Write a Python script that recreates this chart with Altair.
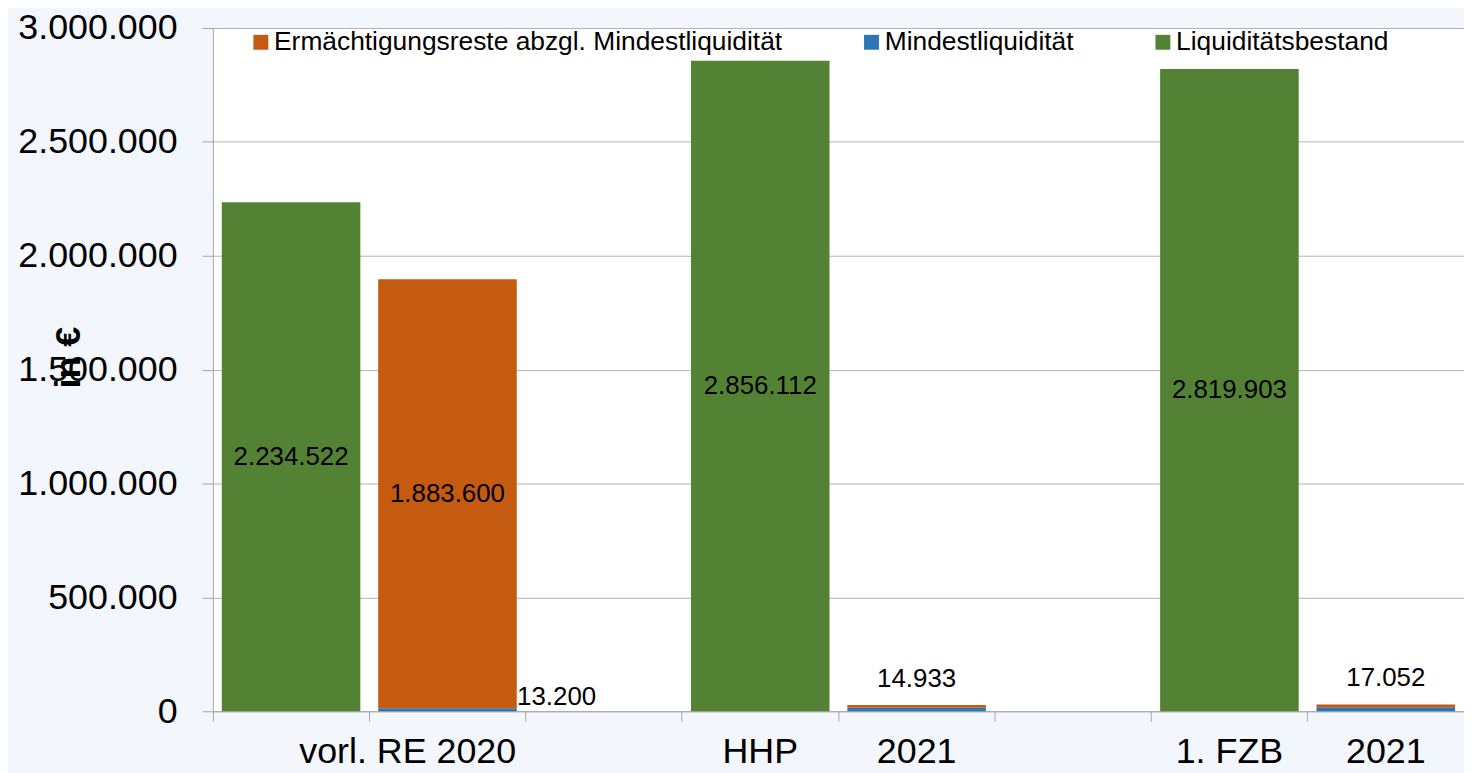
import altair as alt
import pandas as pd

# ---------------- data ----------------
slots = ["s1", "s2", "s3", "s4", "s5", "s6", "s7", "s8"]
slot_labels = ["", "vorl. RE 2020", "", "HHP", "2021", "", "1. FZB", "2021"]

series = ["Ermächtigungsreste abzgl. Mindestliquidität", "Mindestliquidität", "Liquiditätsbestand"]
colors = ["#C55A11", "#2E75B6", "#548235"]

green_slots = ["s1", "s4", "s7"]
green_vals = [2234522, 2856112, 2819903]

orange_slots = ["s2", "s5", "s8"]
orange_vals = [1883600, 13000, 13000]

blue_slots = ["s2", "s5", "s8"]
blue_vals = [13200, 14933, 17052]

y_ticks = [0, 500000, 1000000, 1500000, 2000000, 2500000, 3000000]


def de(v):
    return f"{v:,}".replace(",", ".")


rows = []
for s, v in zip(blue_slots, blue_vals):
    rows.append({"slot": s, "series": series[1], "value": v, "order": 0, "label": de(v)})
for s, v in zip(orange_slots, orange_vals):
    rows.append({"slot": s, "series": series[0], "value": v, "order": 1, "label": de(v)})
for s, v in zip(green_slots, green_vals):
    rows.append({"slot": s, "series": series[2], "value": v, "order": 0, "label": de(v)})
df = pd.DataFrame(rows)

W, H = 1258, 687
FONT = "Liberation Sans"

label_expr = " : ".join(
    f"datum.value == '{s}' ? '{l}'" for s, l in zip(slots, slot_labels) if l
) + " : ''"

x_enc = alt.X(
    "slot:N",
    scale=alt.Scale(domain=slots, paddingInner=0, paddingOuter=0),
    axis=alt.Axis(
        title=None,
        bandPosition=0,
        labelExpr=label_expr,
        labelAngle=0,
        labelFontSize=36,
        labelColor="black",
        labelPadding=14,
        labelBaseline="top",
        labelLimit=0,
        labelOverlap=False,
        labelBound=False,
        labelOffset={"condition": {"test": "datum.value === 's2'", "value": -40}, "value": 0},
        tickSize=10,
        tickColor="#a6a6a6",
        domainColor="#a6a6a6",
        grid=False,
    ),
)

y_scale = alt.Scale(domain=[0, 3000000], nice=False)

bars = alt.Chart(df).mark_bar(width=alt.RelativeBandSize(0.886)).encode(
    x=x_enc,
    y=alt.Y(
        "value:Q",
        stack="zero",
        scale=y_scale,
        axis=alt.Axis(
            values=y_ticks,
            labelExpr="replace(replace(datum.label, ',', '.'), ',', '.')",
            labelFontSize=36,
            labelColor="black",
            labelPadding=25,
            tickSize=11,
            tickColor="#a6a6a6",
            domainColor="#a6a6a6",
            grid=True,
            gridColor="#b3b3b3",
            title="in €",
            titleFontSize=36,
            titleFontWeight="bold",
            titleColor="black",
            titleAngle=270,
            titleAlign="center",
            titleBaseline="alphabetic",
            titleX=-134,
            titleY=331,
        ),
    ),
    color=alt.Color(
        "series:N",
        scale=alt.Scale(domain=series, range=colors),
        legend=alt.Legend(
            title=None,
            orient="none",
            legendX=35,
            legendY=1,
            direction="horizontal",
            columns=3,
            columnPadding=76,
            symbolType="square",
            symbolSize=225,
            symbolStrokeWidth=0,
            labelFontSize=26.5,
            labelColor="black",
            labelOffset=0,
            labelLimit=1000,
            padding=0,
        ),
    ),
    order=alt.Order("order:Q"),
)

base = (
    alt.Chart(df)
    .transform_stack(stack="value", groupby=["slot"], sort=[alt.SortField("order")], as_=["y0", "y1"])
    .transform_joinaggregate(total="sum(value)", groupby=["slot"])
    .transform_calculate(mid="(datum.y0 + datum.y1) / 2")
)

center_labels = base.transform_filter(
    f"datum.series == '{series[2]}' || (datum.series == '{series[0]}' && datum.value > 100000)"
).mark_text(fontSize=26, color="black", baseline="middle").encode(
    x=alt.X("slot:N", scale=alt.Scale(domain=slots)),
    y=alt.Y("mid:Q", scale=y_scale),
    text="label:N",
)

side_labels = base.transform_filter(
    f"datum.series == '{series[1]}' && datum.slot == 's2'"
).mark_text(fontSize=26, color="black", align="left", baseline="alphabetic", dx=70, dy=-3).encode(
    x=alt.X("slot:N", scale=alt.Scale(domain=slots)),
    y=alt.Y("y1:Q", scale=y_scale),
    text="label:N",
)

top_labels = base.transform_filter(
    f"datum.series == '{series[1]}' && datum.slot != 's2'"
).mark_text(fontSize=26, color="black", align="center", baseline="alphabetic", dy=-18).encode(
    x=alt.X("slot:N", scale=alt.Scale(domain=slots)),
    y=alt.Y("total:Q", scale=y_scale),
    text="label:N",
)

chart = (
    alt.layer(bars, center_labels, side_labels, top_labels)
    .properties(
        width=W,
        height=H,
        autosize=alt.AutoSizeParams(type="none"),
        padding={"left": 206, "top": 18, "right": 0, "bottom": 60},
        background="#f3f6fd",
    )
    .configure(font=FONT)
    .configure_view(fill="white", stroke="transparent")
)

chart.save("out.html", embed_options={"renderer": "svg", "actions": False})
